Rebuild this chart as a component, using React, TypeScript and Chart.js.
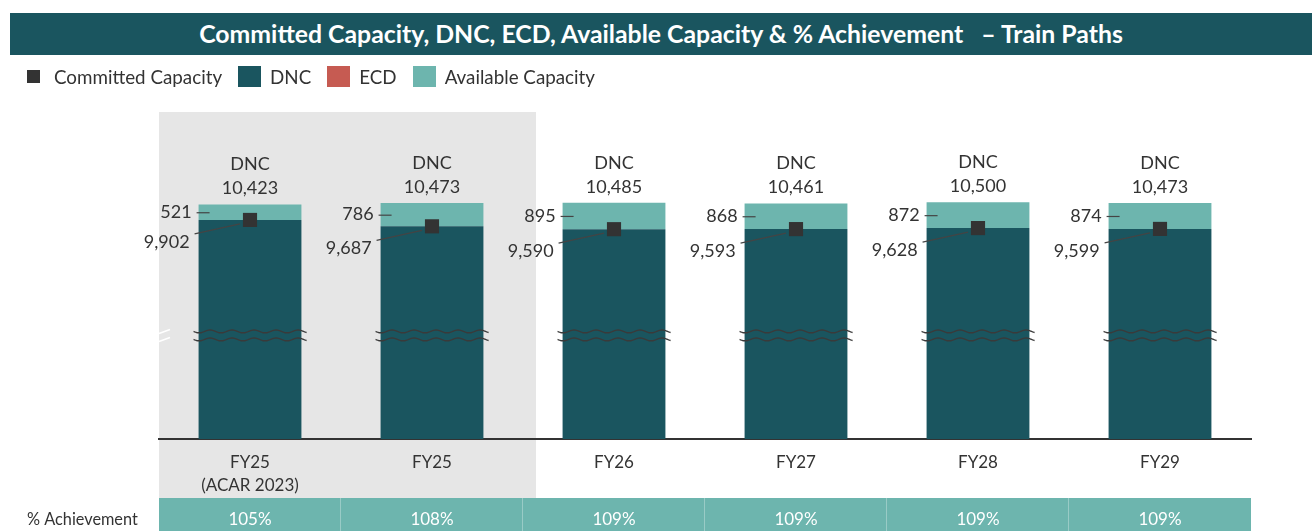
import React, { useEffect, useRef } from "react";
import { Chart, registerables } from "chart.js";

Chart.register(...registerables);

// ---------- data ----------
const categories: (string | string[])[] = [["FY25", "(ACAR 2023)"], "FY25", "FY26", "FY27", "FY28", "FY29"];
const dncTotals = [10423, 10473, 10485, 10461, 10500, 10473];
const committedCapacity = [9902, 9687, 9590, 9593, 9628, 9599];
const availableCapacity = [521, 786, 895, 868, 872, 874];
const ecdValues = [0, 0, 0, 0, 0, 0];
const achievement = ["105%", "108%", "109%", "109%", "109%", "109%"];
const shadedCategoryCount = 2;
const axisBreakValue = 6000;

// ---------- styles ----------
const DARK = "#1a555f";
const LIGHT = "#6db5ae";
const RED = "#c65b52";
const MARK = "#333333";
const TEXT = "#333333";
const FONT = "Lato, 'Open Sans', sans-serif";

const fmt = (v: number) => v.toLocaleString("en-US");

const decorPlugin = {
  id: "decor",
  beforeDraw(chart: any) {
    const { ctx, chartArea, scales } = chart;
    const x = scales.x;
    const shadeRight = x.getPixelForValue(shadedCategoryCount - 0.5) + 13;
    ctx.save();
    ctx.fillStyle = "#e6e6e6";
    ctx.fillRect(chartArea.left, chartArea.top, shadeRight - chartArea.left, chartArea.bottom + 59 - chartArea.top);
    ctx.restore();
  },
  afterDatasetsDraw(chart: any) {
    const { ctx, scales, chartArea } = chart;
    const y = scales.y;
    const meta = chart.getDatasetMeta(0);
    ctx.save();
    // axis break marks on the hidden y axis
    const by = y.getPixelForValue(axisBreakValue);
    ctx.strokeStyle = "#ffffff";
    ctx.lineWidth = 1.5;
    [-4, 4].forEach((d) => {
      ctx.beginPath();
      ctx.moveTo(chartArea.left, by + d + 2);
      ctx.lineTo(chartArea.left + 11, by + d - 2);
      ctx.stroke();
    });

    meta.data.forEach((bar: any, i: number) => {
      const cx = bar.x;
      const half = bar.width / 2;
      const left = cx - half;
      const right = cx + half;
      const yTop = y.getPixelForValue(dncTotals[i]);
      const yC = y.getPixelForValue(committedCapacity[i]);

      // break wavy lines
      ctx.strokeStyle = "#3a3a3a";
      ctx.lineWidth = 1.4;
      [-4, 4].forEach((d) => {
        ctx.beginPath();
        const x0 = left - 5;
        const x1 = right + 6;
        for (let xx = x0; xx <= x1; xx += 1) {
          const yy = by + d + 1.4 * Math.sin(((xx - x0) / 22) * Math.PI * 2);
          if (xx === x0) ctx.moveTo(xx, yy);
          else ctx.lineTo(xx, yy);
        }
        ctx.stroke();
      });

      // labels above bar
      ctx.fillStyle = TEXT;
      ctx.font = `18px ${FONT}`;
      ctx.textAlign = "center";
      ctx.textBaseline = "middle";
      ctx.fillText("DNC", cx, yTop - 40);
      ctx.fillText(fmt(dncTotals[i]), cx, yTop - 16);

      // available capacity label
      const yA = (yTop + yC) / 2;
      ctx.textAlign = "right";
      ctx.fillText(fmt(availableCapacity[i]), left - 7, yA);
      ctx.strokeStyle = "#444444";
      ctx.lineWidth = 1.2;
      ctx.beginPath();
      ctx.moveTo(left - 2, yA + 0.5);
      ctx.lineTo(left + 11, yA + 0.5);
      ctx.stroke();

      // committed capacity label
      const yL = yC + 22;
      ctx.fillText(fmt(committedCapacity[i]), left - 9, yL);
      ctx.beginPath();
      ctx.moveTo(left - 4, yL - 8);
      ctx.lineTo(cx - 10, yC + 4);
      ctx.stroke();
    });
    ctx.restore();
  },
  afterDraw(chart: any) {
    const { ctx, chartArea, scales } = chart;
    const x = scales.x;
    const rowTop = chartArea.bottom + 59;
    ctx.save();
    ctx.fillStyle = LIGHT;
    ctx.fillRect(chartArea.left, rowTop, chartArea.right - chartArea.left, chart.height - rowTop);
    ctx.strokeStyle = "rgba(255,255,255,0.3)";
    ctx.lineWidth = 1;
    for (let i = 1; i < achievement.length; i++) {
      const xb = Math.round(x.getPixelForValue(i - 0.5)) - 0.5;
      ctx.beginPath();
      ctx.moveTo(xb, rowTop);
      ctx.lineTo(xb, chart.height);
      ctx.stroke();
    }
    ctx.font = `17px ${FONT}`;
    ctx.textBaseline = "middle";
    ctx.textAlign = "center";
    ctx.fillStyle = "#ffffff";
    achievement.forEach((a, i) => {
      ctx.fillText(a, x.getPixelForValue(i), rowTop + 22);
    });
    ctx.font = `16.3px ${FONT}`;
    ctx.textAlign = "left";
    ctx.fillStyle = TEXT;
    ctx.fillText("% Achievement", 27, rowTop + 22);
    ctx.restore();
  },
};

function LegendItem({ label, color, small }: { label: string; color: string; small?: boolean }) {
  return (
    <div style={{ display: "flex", alignItems: "center", marginRight: 16 }}>
      <div style={{ width: 23, height: 24, display: "flex", alignItems: "center", justifyContent: "center" }}>
        <div style={{ width: small ? 13 : 23, height: small ? 13 : 21, background: color }} />
      </div>
      <span style={{ marginLeft: 9, fontSize: 18.8, color: TEXT, whiteSpace: "nowrap" }}>{label}</span>
    </div>
  );
}

export default function App() {
  const ref = useRef<HTMLCanvasElement | null>(null);

  useEffect(() => {
    document.body.style.margin = "0";
    if (!ref.current) return;
    Chart.defaults.font.family = FONT;
    const chart = new Chart(ref.current, {
      type: "bar",
      data: {
        labels: categories as any,
        datasets: [
          {
            label: "DNC",
            data: committedCapacity,
            backgroundColor: DARK,
            stack: "bars",
            order: 2,
            borderWidth: 0,
          },
          {
            label: "ECD",
            data: ecdValues,
            backgroundColor: RED,
            stack: "bars",
            order: 2,
            borderWidth: 0,
          },
          {
            label: "Available Capacity",
            data: availableCapacity,
            backgroundColor: LIGHT,
            stack: "bars",
            order: 2,
            borderWidth: 0,
          },
          {
            type: "line",
            label: "Committed Capacity",
            data: committedCapacity,
            showLine: false,
            pointStyle: "rect",
            pointRadius: 10,
            pointHoverRadius: 10,
            pointBackgroundColor: MARK,
            pointBorderWidth: 0,
            borderColor: MARK,
            backgroundColor: MARK,
            stack: "committed",
            order: 0,
          } as any,
        ],
      },
      options: {
        responsive: false,
        animation: false,
        devicePixelRatio: 1,
        datasets: { bar: { categoryPercentage: 1, barPercentage: 0.565 } },
        layout: { padding: { left: 159, right: 61, top: 112, bottom: 0 } },
        plugins: { legend: { display: false }, tooltip: { enabled: false }, title: { display: false } },
        scales: {
          x: {
            stacked: true,
            grid: { display: false, drawTicks: false },
            border: { display: true, color: "#333333", width: 2 },
            ticks: {
              color: TEXT,
              padding: 12,
              font: { size: 17, lineHeight: 1.35, family: FONT },
              maxRotation: 0,
              autoSkip: false,
            },
            afterFit: (scale: any) => {
              scale.height = 92;
            },
          },
          y: {
            stacked: true,
            display: false,
            min: 2500,
            max: 13550,
          },
        },
      },
      plugins: [decorPlugin],
    });
    return () => chart.destroy();
  }, []);

  return (
    <div style={{ position: "relative", width: 1312, height: 531, overflow: "hidden", fontFamily: FONT }}>
      <canvas ref={ref} width={1312} height={531} style={{ position: "absolute", left: 0, top: 0 }} />
      <div
        style={{
          position: "absolute",
          left: 10,
          top: 13,
          width: 1302,
          height: 42,
          background: DARK,
          color: "#ffffff",
          fontWeight: 700,
          fontSize: 24.8,
          lineHeight: "42px",
          textAlign: "center",
          whiteSpace: "pre",
        }}
      >
        {"Committed Capacity, DNC, ECD, Available Capacity & % Achievement   \u2013 Train Paths"}
      </div>
      <div style={{ position: "absolute", left: 22, top: 64, height: 24, display: "flex", alignItems: "center" }}>
        <LegendItem label="Committed Capacity" color={MARK} small />
        <LegendItem label="DNC" color={DARK} />
        <LegendItem label="ECD" color={RED} />
        <LegendItem label="Available Capacity" color={LIGHT} />
      </div>
    </div>
  );
}
